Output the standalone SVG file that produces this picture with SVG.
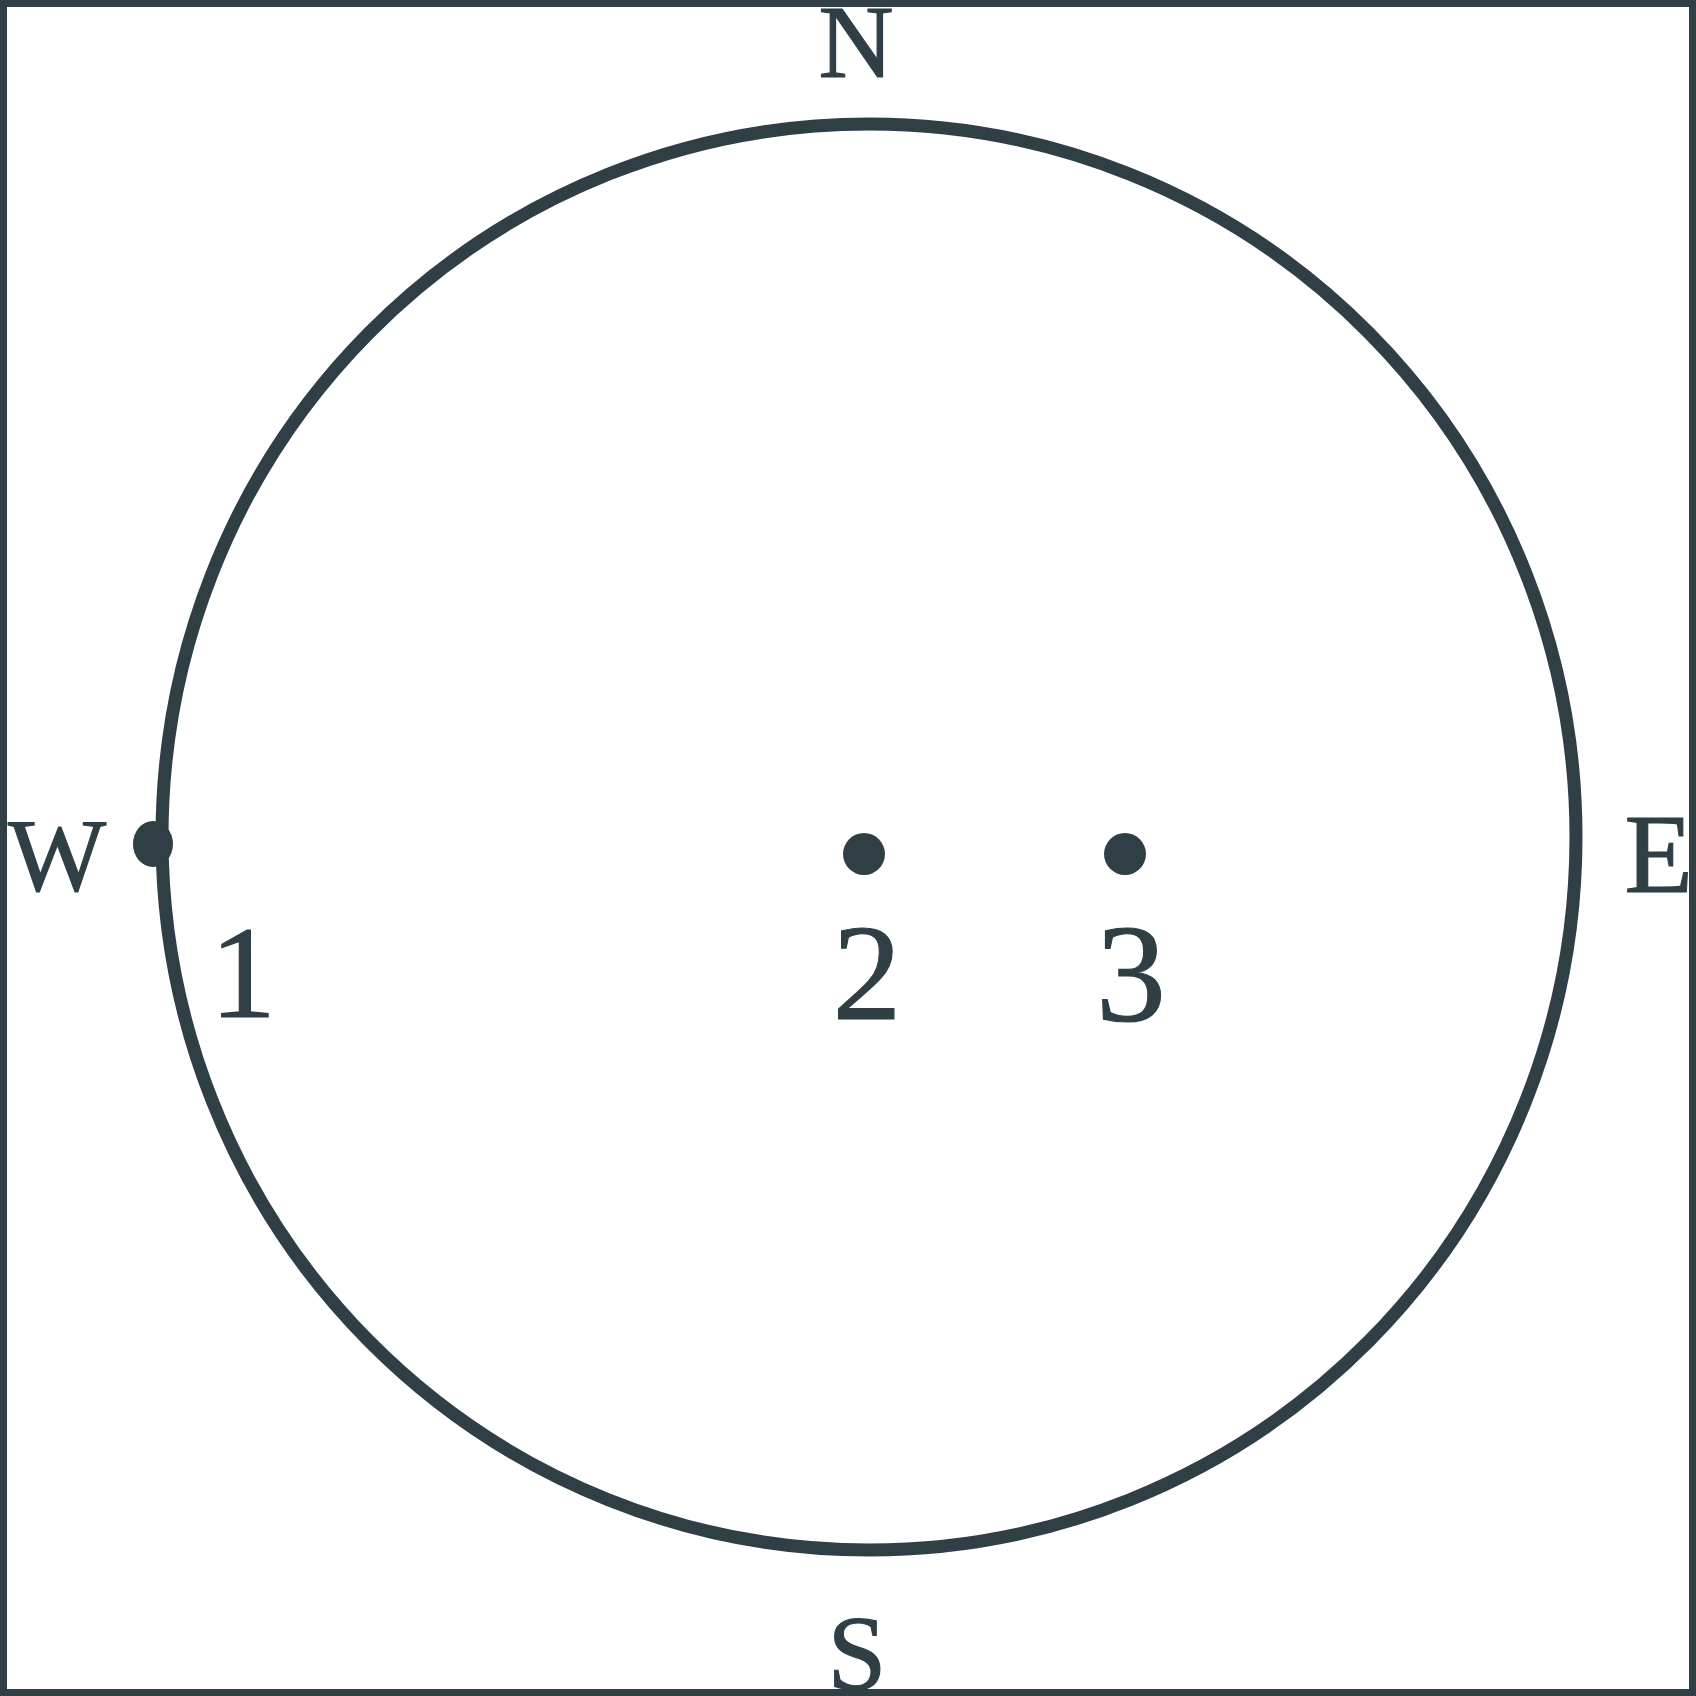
<svg xmlns="http://www.w3.org/2000/svg" width="1696" height="1696" viewBox="0 0 1696 1696">
<style>
.ln{fill:none;stroke:#303e46}
.tx{font-family:"Liberation Serif","Times New Roman",serif;fill:#303e46;stroke:#303e46;stroke-width:1.2}
.dt{fill:#303e46}
</style>
<rect width="1696" height="1696" fill="#ffffff"/>
<g id="frame">
<rect class="ln" x="3.5" y="3.5" width="1689" height="1689" stroke-width="7"/>
</g>
<g id="compass">
<text class="tx" x="856" y="77" font-size="104" text-anchor="middle">N</text>
<text class="tx" x="857" y="1689" font-size="106" text-anchor="middle">S</text>
<text class="tx" x="8" y="890" font-size="104">W</text>
<text class="tx" x="1693" y="892" font-size="112" text-anchor="end">E</text>
</g>
<g id="circle">
<ellipse class="ln" cx="869" cy="837" rx="707" ry="713" stroke-width="13"/>
<ellipse class="dt" cx="153" cy="844" rx="20" ry="23"/>
</g>
<g id="node1">
<text class="tx" x="243" y="1017" font-size="132" text-anchor="middle">1</text>
</g>
<g id="node2">
<circle class="dt" cx="864" cy="854" r="21"/>
<text class="tx" x="867" y="1019" font-size="138" text-anchor="middle">2</text>
</g>
<g id="node3">
<circle class="dt" cx="1125" cy="854" r="21"/>
<text class="tx" x="1131" y="1021" font-size="140" text-anchor="middle">3</text>
</g>
</svg>
